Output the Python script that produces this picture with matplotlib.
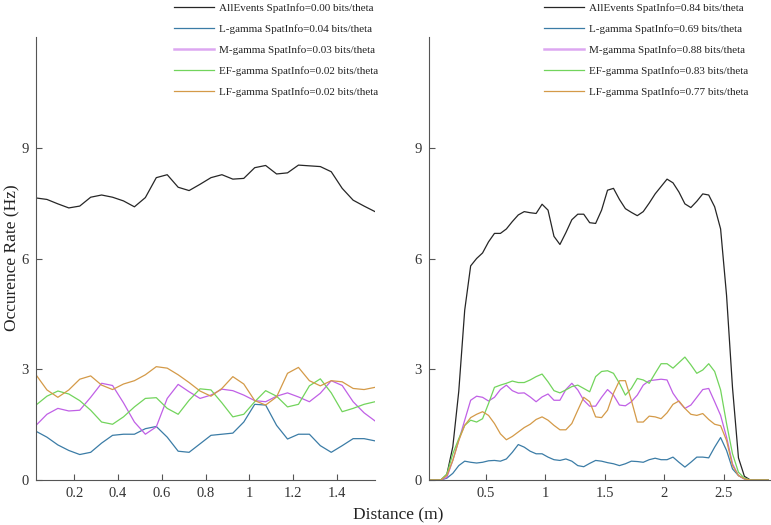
import matplotlib.pyplot as plt
import numpy as np

plt.rcParams['font.family'] = ['Liberation Serif', 'DejaVu Serif']

# left panel: bins of 0.05 m, centres 0.025 .. 1.575
x_left = np.round(0.025 + 0.05 * np.arange(32), 3)
all_left = [7.64, 7.60, 7.48, 7.37, 7.42, 7.66, 7.72, 7.66, 7.56, 7.40, 7.65, 8.19,
            8.27, 7.93, 7.84, 8.01, 8.19, 8.27, 8.15, 8.17, 8.46, 8.52, 8.29, 8.32,
            8.53, 8.51, 8.49, 8.35, 7.90, 7.58, 7.42, 7.27]
l_left = [1.32, 1.16, 0.95, 0.80, 0.69, 0.75, 1.00, 1.21, 1.24, 1.24, 1.39, 1.45,
          1.16, 0.78, 0.75, 0.98, 1.21, 1.24, 1.27, 1.57, 2.05, 2.03, 1.48, 1.11,
          1.24, 1.24, 0.93, 0.75, 0.93, 1.12, 1.12, 1.06]
m_left = [1.48, 1.78, 1.94, 1.87, 1.89, 2.24, 2.62, 2.56, 2.09, 1.57, 1.24, 1.44,
          2.21, 2.59, 2.39, 2.21, 2.30, 2.46, 2.42, 2.30, 2.15, 2.12, 2.27, 2.36,
          2.25, 2.12, 2.35, 2.69, 2.56, 2.12, 1.82, 1.60]
ef_left = [2.03, 2.27, 2.41, 2.33, 2.15, 1.89, 1.57, 1.51, 1.71, 1.98, 2.21, 2.23,
           1.94, 1.78, 2.16, 2.47, 2.44, 2.09, 1.71, 1.78, 2.12, 2.42, 2.27, 1.98,
           2.05, 2.55, 2.74, 2.36, 1.85, 1.94, 2.05, 2.12]
lf_left = [2.85, 2.44, 2.24, 2.44, 2.73, 2.82, 2.57, 2.45, 2.60, 2.69, 2.85, 3.07,
           3.03, 2.85, 2.64, 2.41, 2.27, 2.48, 2.80, 2.60, 2.15, 2.03, 2.25, 2.89,
           3.05, 2.69, 2.55, 2.69, 2.66, 2.48, 2.45, 2.51]

# right panel: bins of 0.05 m, centres 0.025 .. 2.875
x_right = np.round(0.025 + 0.05 * np.arange(58), 3)
all_right = [0, 0, 0, 0.15, 0.90, 2.40, 4.60, 5.80, 6.00, 6.15, 6.45, 6.68, 6.68, 6.80,
             7.00, 7.18, 7.27, 7.24, 7.22, 7.47, 7.31, 6.60, 6.38, 6.70, 7.05, 7.20,
             7.20, 6.97, 6.95, 7.31, 7.85, 7.90, 7.60, 7.35, 7.25, 7.16, 7.27, 7.50,
             7.75, 7.95, 8.15, 8.05, 7.80, 7.48, 7.38, 7.55, 7.75, 7.72, 7.40, 6.80,
             5.00, 2.50, 0.60, 0.10, 0, 0, 0, 0]
l_right = [0, 0, 0, 0.05, 0.18, 0.39, 0.51, 0.48, 0.46, 0.48, 0.52, 0.53, 0.51, 0.57,
           0.75, 0.96, 0.89, 0.78, 0.71, 0.71, 0.62, 0.55, 0.53, 0.57, 0.51, 0.39,
           0.36, 0.45, 0.53, 0.51, 0.47, 0.44, 0.39, 0.44, 0.51, 0.50, 0.48, 0.55,
           0.59, 0.55, 0.55, 0.62, 0.48, 0.35, 0.48, 0.62, 0.62, 0.60, 0.89, 1.15,
           0.80, 0.30, 0.12, 0.03, 0, 0, 0, 0]
m_right = [0, 0, 0, 0.07, 0.53, 1.07, 1.62, 2.16, 2.27, 2.24, 2.14, 2.24, 2.45, 2.57,
           2.42, 2.35, 2.36, 2.25, 2.12, 2.25, 2.33, 2.16, 2.16, 2.45, 2.62, 2.44,
           2.16, 2.00, 2.00, 2.24, 2.45, 2.30, 2.03, 2.01, 2.12, 2.30, 2.57, 2.69,
           2.71, 2.73, 2.71, 2.35, 2.12, 1.94, 2.03, 2.24, 2.45, 2.48, 2.12, 1.75,
           1.16, 0.44, 0.12, 0.03, 0, 0, 0, 0]
ef_right = [0, 0, 0, 0.16, 0.71, 1.12, 1.48, 1.62, 1.57, 1.66, 2.07, 2.51, 2.57, 2.62,
            2.68, 2.64, 2.64, 2.71, 2.80, 2.87, 2.66, 2.42, 2.36, 2.44, 2.53, 2.57,
            2.48, 2.39, 2.80, 2.94, 2.96, 2.89, 2.62, 2.30, 2.48, 2.75, 2.71, 2.62,
            2.89, 3.15, 3.15, 3.03, 3.18, 3.33, 3.12, 2.89, 2.98, 3.15, 2.94, 2.44,
            1.53, 0.71, 0.21, 0.05, 0, 0, 0, 0]
lf_right = [0, 0, 0, 0.12, 0.53, 1.07, 1.48, 1.69, 1.78, 1.85, 1.75, 1.53, 1.25, 1.09,
            1.18, 1.30, 1.42, 1.51, 1.64, 1.71, 1.62, 1.48, 1.36, 1.36, 1.53, 1.89,
            2.24, 2.12, 1.71, 1.69, 1.89, 2.35, 2.69, 2.69, 2.16, 1.57, 1.57, 1.73,
            1.71, 1.66, 1.82, 2.05, 2.14, 1.94, 1.78, 1.75, 1.80, 1.64, 1.51, 1.47,
            1.07, 0.39, 0.12, 0.03, 0, 0, 0, 0]

names = ['AllEvents', 'L-gamma', 'M-gamma', 'EF-gamma', 'LF-gamma']
info_left = ['0.00', '0.04', '0.03', '0.02', '0.02']
info_right = ['0.84', '0.69', '0.88', '0.83', '0.77']
colors = ['#262626', '#3b7ca6', '#c060e6', '#72d45c', '#d49a48']

fig = plt.figure(figsize=(7.71, 5.25), dpi=100)
ax1 = fig.add_axes([36 / 771, 45 / 525, 339 / 771, 443 / 525])
ax2 = fig.add_axes([429 / 771, 45 / 525, 341 / 771, 443 / 525])

panels = [
    (ax1, x_left, [all_left, l_left, m_left, ef_left, lf_left], info_left,
     (0.025, 1.575), [0.2, 0.4, 0.6, 0.8, 1, 1.2, 1.4], ['0.2', '0.4', '0.6', '0.8', '1', '1.2', '1.4'], 171),
    (ax2, x_right, [all_right, l_right, m_right, ef_right, lf_right], info_right,
     (0.025, 2.89), [0.5, 1, 1.5, 2, 2.5], ['0.5', '1', '1.5', '2', '2.5'], 541),
]

for ax, x, series, info, xlim, xt, xtl, leg_x in panels:
    for vals, name, si, c in zip(series, names, info, colors):
        ax.plot(x, vals, color=c, lw=0.9,
                label=f'{name} SpatInfo={si} bits/theta')
    ax.set_xlim(*xlim)
    ax.set_ylim(0, 12)
    ax.set_yticks([0, 3, 6, 9])
    ax.set_xticks(xt)
    ax.set_xticklabels(xtl)
    for s in ['top', 'right']:
        ax.spines[s].set_visible(False)
    for s in ['left', 'bottom']:
        ax.spines[s].set_color('#555555')
        ax.spines[s].set_linewidth(0.8)
    ax.tick_params(direction='in', length=4, color='#555555', labelcolor='#333333',
                   labelsize=10.5, pad=5)
    leg = ax.legend(loc='upper left', bbox_to_anchor=(leg_x / 771, 1.0),
                    bbox_transform=fig.transFigure, frameon=False, fontsize=8,
                    borderpad=0.3, borderaxespad=0, handlelength=3.6, handletextpad=0.4,
                    labelspacing=1.0, labelcolor='#222222')
    leg.get_lines()[2].set_linewidth(1.8)
    leg.get_lines()[2].set_alpha(0.55)

fig.text(12 / 771, 0.51, 'Occurence Rate (Hz)', rotation=90, va='center', ha='center',
         fontsize=12.5, color='#222222')
fig.text(398 / 771, 10 / 525, 'Distance (m)', ha='center', va='center',
         fontsize=12.5, color='#222222')

fig.savefig('out.png', dpi=100)
